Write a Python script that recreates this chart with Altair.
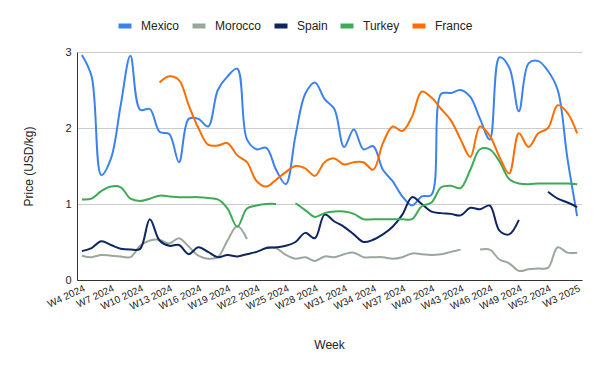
import altair as alt
import pandas as pd

weeks = [
    "W4 2024", "W5 2024", "W6 2024", "W7 2024", "W8 2024", "W9 2024", "W10 2024",
    "W11 2024", "W12 2024", "W13 2024", "W14 2024", "W15 2024", "W16 2024",
    "W17 2024", "W18 2024", "W19 2024", "W20 2024", "W21 2024", "W22 2024",
    "W23 2024", "W24 2024", "W25 2024", "W26 2024", "W27 2024", "W28 2024",
    "W29 2024", "W30 2024", "W31 2024", "W32 2024", "W33 2024", "W34 2024",
    "W35 2024", "W36 2024", "W37 2024", "W38 2024", "W39 2024", "W40 2024",
    "W41 2024", "W42 2024", "W43 2024", "W44 2024", "W45 2024", "W46 2024",
    "W47 2024", "W48 2024", "W49 2024", "W50 2024", "W51 2024", "W52 2024",
    "W1 2025", "W2 2025", "W3 2025",
]

tick_labels = [
    "W4 2024", "W7 2024", "W10 2024", "W13 2024", "W16 2024", "W19 2024",
    "W22 2024", "W25 2024", "W28 2024", "W31 2024", "W34 2024", "W37 2024",
    "W40 2024", "W43 2024", "W46 2024", "W49 2024", "W52 2024", "W3 2025",
]

mexico = [2.96, 2.68, 1.38, 1.60, 2.30, 2.95, 2.24, 2.25, 1.95, 1.92,
          1.55, 2.12, 2.12, 2.02, 2.50, 2.68, 2.78, 1.85, 1.72, 1.74,
          1.45, 1.26, 1.90, 2.45, 2.60, 2.38, 2.25, 1.75, 1.98, 1.72,
          1.76, 1.45, 1.30, 1.10, 0.98, 1.10, 1.12, 2.45, 2.46, 2.50,
          2.41, 2.12, 1.85, 2.93, 2.80, 2.22, 2.85, 2.88, 2.75, 2.50,
          1.60, 0.84]

morocco = [0.32, 0.30, 0.33, 0.32, 0.31, 0.30, 0.45, 0.52, 0.53, 0.48,
           0.55, 0.44, 0.32, 0.28, 0.30, 0.52, 0.71, 0.54, None, 0.43,
           0.42, 0.33, 0.28, 0.30, 0.25, 0.31, 0.30, 0.34, 0.36, 0.30,
           0.30, 0.30, 0.28, 0.30, 0.35, 0.34, 0.33, 0.34, 0.37, 0.40,
           None, 0.40, 0.40, 0.27, 0.22, 0.12, 0.14, 0.15, 0.16, 0.43,
           0.36, 0.36]

spain = [0.38, 0.42, 0.51, 0.46, 0.41, 0.40, 0.41, 0.80, 0.52, 0.45,
         0.46, 0.34, 0.43, 0.37, 0.30, 0.33, 0.31, 0.34, 0.37, 0.42,
         0.43, 0.45, 0.50, 0.62, 0.55, 0.86, 0.77, 0.70, 0.60, 0.50,
         0.53, 0.60, 0.70, 0.86, 1.09, 1.00, 0.90, 0.88, 0.87, 0.85,
         0.95, 0.93, 0.98, 0.65, 0.60, 0.79, None, None, 1.16, 1.07,
         1.02, 0.96]

turkey = [1.06, 1.07, 1.17, 1.23, 1.22, 1.07, 1.04, 1.07, 1.11, 1.10,
          1.09, 1.09, 1.09, 1.08, 1.06, 0.94, 0.70, 0.94, 0.98, 1.00,
          1.00, None, 1.01, 0.92, 0.83, 0.88, 0.90, 0.90, 0.87, 0.80,
          0.80, 0.80, 0.80, 0.80, 0.80, 0.97, 1.02, 1.22, 1.24, 1.21,
          1.45, 1.72, 1.72, 1.56, 1.33, 1.27, 1.26, 1.27, 1.27, 1.27,
          1.27, 1.26]

france = [None, None, None, None, None, None, None, None, 2.60, 2.68,
          2.63, 2.30, 2.00, 1.78, 1.77, 1.80, 1.64, 1.55, 1.30, 1.23,
          1.32, 1.42, 1.50, 1.47, 1.37, 1.55, 1.60, 1.52, 1.55, 1.55,
          1.45, 1.80, 2.02, 1.96, 2.15, 2.48, 2.40, 2.25, 2.10, 1.85,
          1.62, 2.02, 1.90, 1.62, 1.40, 1.93, 1.75, 1.93, 2.00, 2.30,
          2.20, 1.93]

series_names = ["Mexico", "Morocco", "Spain", "Turkey", "France"]
series_colors = ["#3b82f0", "#9aa89b", "#0d2660", "#3dab55", "#ff6d01"]

rows = []
for name, vals in zip(series_names, [mexico, morocco, spain, turkey, france]):
    for w, v in zip(weeks, vals):
        rows.append({"Week": w, "Country": name, "Price": v})
df = pd.DataFrame(rows)

FONT = "Liberation Sans"

chart = (
    alt.Chart(df)
    .mark_line(interpolate="catmull-rom", strokeWidth=2, invalid="break-paths-show-domains")
    .encode(
        x=alt.X(
            "Week:N",
            sort=weeks,
            scale=alt.Scale(type="point", padding=0.5),
            axis=alt.Axis(
                values=tick_labels,
                labelAngle=-25,
                labelAlign="right",
                labelBaseline="top",
                labelPadding=3,
                labelFontSize=10,
                labelColor="#222222",
                ticks=False,
                grid=False,
                domainColor="#333333",
                title="Week",
                titleFontSize=12,
                titleFontWeight="normal",
                titleColor="#222222",
                titleX=252,
                titleY=64,
                titleBaseline="middle",
                titleAlign="center",
            ),
        ),
        y=alt.Y(
            "Price:Q",
            scale=alt.Scale(domain=[0, 3], nice=False),
            axis=alt.Axis(
                values=[0, 1, 2, 3],
                ticks=False,
                labelPadding=6,
                labelFontSize=11,
                labelColor="#222222",
                gridColor="#cccccc",
                domainColor="#333333",
                title="Price (USD/kg)",
                titleFontSize=12,
                titleFontWeight="normal",
                titleColor="#222222",
                titleX=-49,
                titleY=114,
                titleAngle=-90,
                titleBaseline="middle",
                titleAlign="center",
            ),
        ),
        color=alt.Color(
            "Country:N",
            sort=series_names,
            scale=alt.Scale(domain=series_names, range=series_colors),
            legend=alt.Legend(
                orient="none",
                legendX=39,
                legendY=-35,
                direction="horizontal",
                title=None,
                symbolType="stroke",
                symbolSize=169,
                symbolStrokeWidth=5,
                labelFontSize=12,
                labelColor="#222222",
                labelOffset=7,
                columnPadding=2,
                padding=0,
            ),
        ),
    )
    .properties(
        width=505,
        height=228,
        autosize=alt.AutoSizeParams(type="none"),
        padding={"left": 69, "top": 44, "right": 10, "bottom": 80},
    )
    .configure(font=FONT)
    .configure_view(stroke=None)
)

chart.save("out.html", embed_options={"renderer": "svg", "actions": False})
